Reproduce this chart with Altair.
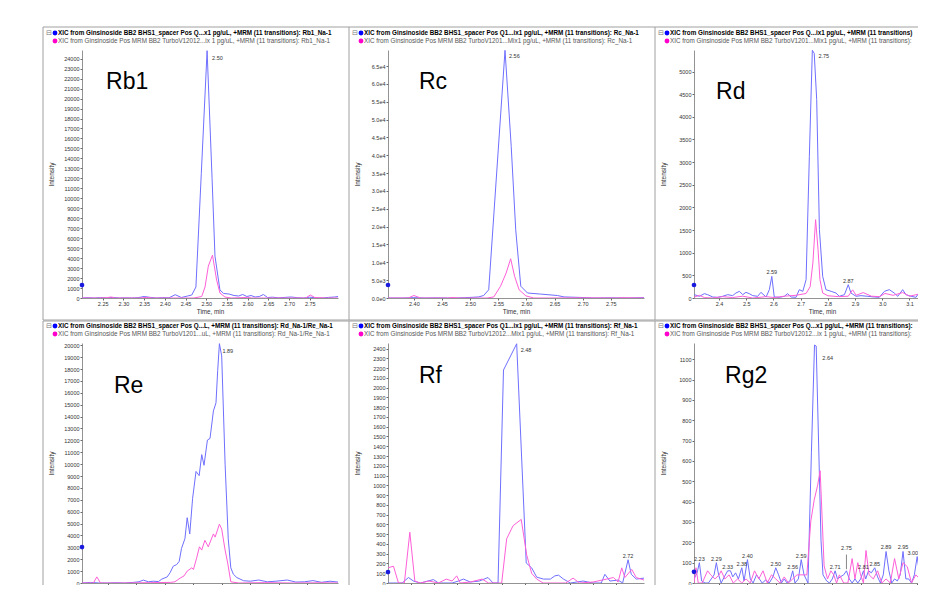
import altair as alt
import pandas as pd

FONT = "Liberation Sans, Arial, sans-serif"
BLUE = "#6f6fff"
MAGENTA = "#ff5fd8"
MARK = "#1a1adf"
W = [256, 256, 256, 256, 256, 256]
H = [248, 248, 248, 240, 240, 240]

# ---------------- data ----------------
rb1_blue_t = [2.200, 2.215, 2.230, 2.245, 2.260, 2.275, 2.290, 2.305, 2.320, 2.335, 2.350, 2.365, 2.380, 2.395, 2.410, 2.425, 2.440, 2.455, 2.465, 2.475, 2.488, 2.502, 2.514, 2.521, 2.533, 2.542, 2.555, 2.567, 2.578, 2.588, 2.598, 2.608, 2.618, 2.628, 2.638, 2.648, 2.660, 2.675, 2.690, 2.705, 2.720, 2.735, 2.750, 2.765, 2.780, 2.795, 2.810, 2.818]
rb1_blue_i = [0, 30, 0, 40, 10, 60, 0, 20, 0, 30, 150, 60, 0, 40, 20, 330, 50, 200, 300, 1100, 12500, 24800, 12000, 4200, 800, 450, 400, 250, 200, 350, 150, 250, 100, 150, 350, 50, 80, 20, 60, 100, 30, 0, 80, 20, 0, 60, 100, 150]
rb1_mag_t = [2.200, 2.240, 2.260, 2.270, 2.280, 2.340, 2.355, 2.370, 2.470, 2.489, 2.497, 2.505, 2.515, 2.525, 2.533, 2.545, 2.560, 2.600, 2.610, 2.700, 2.740, 2.751, 2.762, 2.790, 2.818]
rb1_mag_i = [0, 0, 30, 100, 0, 0, 60, 0, 0, 150, 1100, 3200, 4300, 1800, 500, 100, 0, 60, 0, 0, 0, 300, 50, 0, 0]

rc_blue_t = [2.354, 2.380, 2.400, 2.420, 2.440, 2.460, 2.475, 2.490, 2.505, 2.515, 2.524, 2.533, 2.562, 2.573, 2.581, 2.590, 2.602, 2.625, 2.655, 2.667, 2.697, 2.720, 2.750, 2.780, 2.804, 2.809]
rc_blue_i = [0, 0, 100, 0, 50, 0, 0, 100, 200, 300, 700, 2300, 69400, 42500, 19100, 3300, 1400, 1100, 700, 300, 150, 0, 50, 0, 100, 100]
rc_mag_t = [2.354, 2.390, 2.400, 2.412, 2.460, 2.470, 2.480, 2.530, 2.542, 2.554, 2.564, 2.572, 2.579, 2.587, 2.599, 2.613, 2.640, 2.700, 2.760, 2.770, 2.809]
rc_mag_i = [0, 0, 700, 0, 0, 150, 0, 0, 300, 3300, 7000, 11000, 6100, 2300, 600, 0, 0, 50, 0, 80, 0]

rd_blue_t = [2.309, 2.328, 2.346, 2.358, 2.377, 2.395, 2.413, 2.432, 2.450, 2.462, 2.475, 2.487, 2.499, 2.511, 2.524, 2.542, 2.554, 2.573, 2.585, 2.594, 2.603, 2.622, 2.640, 2.652, 2.665, 2.683, 2.695, 2.708, 2.720, 2.732, 2.743, 2.750, 2.759, 2.769, 2.781, 2.793, 2.812, 2.830, 2.842, 2.861, 2.875, 2.885, 2.904, 2.922, 2.947, 2.971, 2.989, 3.008, 3.026, 3.044, 3.057, 3.075, 3.087, 3.106, 3.124, 3.136, 3.148, 3.162, 3.185, 3.210, 3.249]
rd_blue_i = [74, 37, 96, 74, 22, 15, 37, 74, 52, 110, 147, 74, 125, 96, 52, 37, 125, 22, 184, 478, 22, 15, 37, 96, 22, 15, 184, 147, 405, 3128, 5470, 5400, 4380, 1509, 478, 184, 147, 110, 37, 74, 294, 110, 37, 52, 37, 22, 15, 147, 184, 110, 37, 184, 74, 37, 15, 125, 37, 74, 50, 90, 40]
rd_mag_t = [2.309, 2.328, 2.346, 2.377, 2.413, 2.450, 2.487, 2.524, 2.573, 2.603, 2.640, 2.683, 2.720, 2.735, 2.745, 2.755, 2.764, 2.771, 2.781, 2.800, 2.840, 2.875, 2.891, 2.904, 2.930, 2.960, 2.990, 3.010, 3.040, 3.075, 3.100, 3.130, 3.150, 3.162, 3.200, 3.249]
rd_mag_i = [20, 60, 10, 0, 30, 10, 40, 0, 30, 10, 40, 60, 100, 250, 773, 1730, 1067, 405, 110, 50, 30, 40, 180, 60, 120, 40, 30, 100, 60, 120, 40, 80, 20, 260, 150, 60]

re_blue_t = [1.410, 1.440, 1.470, 1.500, 1.530, 1.560, 1.590, 1.610, 1.625, 1.643, 1.660, 1.678, 1.690, 1.709, 1.719, 1.730, 1.742, 1.751, 1.759, 1.771, 1.779, 1.788, 1.798, 1.810, 1.821, 1.830, 1.838, 1.850, 1.859, 1.871, 1.880, 1.886, 1.892, 1.900, 1.912, 1.923, 1.932, 1.941, 1.953, 1.977, 2.000, 2.030, 2.060, 2.090, 2.130, 2.160, 2.190, 2.220, 2.250, 2.280, 2.308]
re_blue_i = [0, 50, 0, 0, 20, 0, 50, 100, 245, 100, 150, 120, 327, 514, 865, 1412, 1548, 1820, 2906, 3723, 5494, 4131, 7128, 9386, 9032, 10801, 9903, 12026, 12162, 14475, 15155, 17877, 20135, 19101, 10000, 3723, 1274, 735, 460, 190, 150, 250, 100, 150, 250, 80, 100, 200, 60, 150, 80]
re_mag_t = [1.410, 1.450, 1.462, 1.475, 1.550, 1.650, 1.720, 1.736, 1.754, 1.768, 1.779, 1.795, 1.801, 1.812, 1.822, 1.830, 1.841, 1.853, 1.871, 1.877, 1.892, 1.900, 1.912, 1.921, 1.932, 1.960, 2.050, 2.150, 2.250, 2.308]
re_mag_i = [0, 0, 514, 0, 0, 30, 50, 100, 408, 596, 1004, 1274, 1140, 2090, 3045, 2770, 3590, 3045, 4131, 3860, 4950, 4540, 2770, 1684, 100, 0, 30, 0, 20, 0]

rf_blue_t = [2.199, 2.230, 2.244, 2.255, 2.270, 2.299, 2.310, 2.340, 2.354, 2.365, 2.380, 2.400, 2.419, 2.430, 2.441, 2.453, 2.482, 2.503, 2.515, 2.526, 2.541, 2.556, 2.566, 2.574, 2.585, 2.600, 2.628, 2.650, 2.668, 2.676, 2.687, 2.705, 2.715, 2.727, 2.734, 2.745, 2.762]
rf_blue_i = [0, 0, 56, 20, 0, 35, 0, 0, 20, 40, 10, 20, 56, 0, 0, 2180, 2449, 205, 155, 60, 40, 40, 73, 80, 40, 0, 20, 0, 0, 89, 20, 30, 0, 238, 89, 40, 50]
rf_mag_t = [2.199, 2.211, 2.222, 2.235, 2.247, 2.258, 2.270, 2.289, 2.310, 2.327, 2.340, 2.350, 2.358, 2.380, 2.406, 2.420, 2.449, 2.460, 2.474, 2.492, 2.504, 2.515, 2.526, 2.540, 2.590, 2.606, 2.620, 2.650, 2.680, 2.695, 2.705, 2.713, 2.720, 2.735, 2.745, 2.762]
rf_mag_i = [155, 172, 0, 0, 519, 20, 0, 20, 0, 40, 20, 73, 0, 10, 40, 0, 0, 453, 586, 651, 288, 99, 40, 0, 0, 50, 0, 10, 40, 56, 10, 155, 56, 139, 56, 30]

rg2_blue_t = [2.211, 2.222, 2.230, 2.238, 2.250, 2.262, 2.272, 2.282, 2.290, 2.298, 2.307, 2.318, 2.330, 2.340, 2.348, 2.358, 2.368, 2.380, 2.388, 2.400, 2.410, 2.420, 2.432, 2.442, 2.452, 2.465, 2.477, 2.490, 2.500, 2.510, 2.520, 2.530, 2.540, 2.550, 2.560, 2.568, 2.580, 2.590, 2.600, 2.614, 2.626, 2.637, 2.643, 2.660, 2.667, 2.680, 2.690, 2.700, 2.710, 2.718, 2.728, 2.740, 2.750, 2.760, 2.770, 2.780, 2.790, 2.800, 2.810, 2.818, 2.828, 2.838, 2.850, 2.860, 2.870, 2.880, 2.890, 2.900, 2.910, 2.920, 2.930, 2.940, 2.950, 2.960, 2.970, 2.980, 2.990, 3.000, 3.010, 3.020, 3.030, 3.040, 3.060, 3.080, 3.116]
rg2_blue_i = [20, 50, 100, 10, 0, 0, 20, 40, 100, 40, 0, 30, 60, 60, 30, 50, 20, 75, 10, 115, 20, 0, 40, 20, 0, 15, 0, 30, 75, 40, 0, 20, 0, 10, 60, 0, 20, 115, 40, 0, 640, 1170, 1165, 210, 40, 10, 0, 20, 60, 20, 30, 40, 60, 20, 0, 20, 0, 20, 60, 20, 60, 50, 75, 30, 0, 40, 155, 60, 0, 20, 10, 40, 155, 20, 20, 0, 40, 130, 30, 60, 100, 80, 50, 80, 40]
rg2_mag_t = [2.211, 2.218, 2.226, 2.240, 2.259, 2.270, 2.285, 2.300, 2.307, 2.320, 2.335, 2.350, 2.365, 2.380, 2.395, 2.410, 2.425, 2.440, 2.455, 2.470, 2.485, 2.500, 2.515, 2.530, 2.545, 2.560, 2.575, 2.585, 2.610, 2.624, 2.636, 2.648, 2.657, 2.671, 2.683, 2.695, 2.705, 2.715, 2.725, 2.740, 2.755, 2.770, 2.780, 2.790, 2.800, 2.810, 2.819, 2.830, 2.845, 2.860, 2.875, 2.890, 2.905, 2.920, 2.935, 2.950, 2.965, 2.980, 2.995, 3.010, 3.020, 3.035, 3.050, 3.070, 3.090, 3.116]
rg2_mag_i = [0, 75, 0, 0, 60, 40, 20, 40, 60, 20, 40, 0, 20, 0, 20, 0, 60, 20, 60, 0, 40, 20, 0, 30, 0, 20, 40, 40, 40, 305, 409, 480, 552, 84, 20, 60, 40, 0, 40, 0, 0, 120, 20, 100, 40, 0, 160, 40, 20, 60, 0, 20, 0, 120, 20, 100, 80, 0, 40, 20, 120, 60, 30, 80, 40, 60]

# labelled peaks (time, intensity, text)
main_peak_t = [2.502, 2.562, 2.747, 1.892, 2.482, 2.640]
main_peak_i = [24800, 69400, 5470, 20135, 2449, 1170]
main_peak_txt = ["2.50", "2.56", "2.75", "1.89", "2.48", "2.64"]
rd_minor_t = [2.594, 2.875]
rd_minor_i = [478, 294]
rd_minor_txt = ["2.59", "2.87"]
rf_minor_t = [2.727]
rf_minor_i = [238]
rf_minor_txt = ["2.72"]
rg2_minor_t = [2.230, 2.290, 2.330, 2.380, 2.400, 2.500, 2.560, 2.590, 2.710, 2.750, 2.810, 2.850, 2.890, 2.950]
rg2_minor_i = [100, 100, 60, 75, 115, 75, 60, 115, 60, 150, 60, 75, 155, 155]
rg2_minor_txt = ["2.23", "2.29", "2.33", "2.38", "2.40", "2.50", "2.56", "2.59", "2.71", "2.75", "2.81", "2.85", "2.89", "2.95"]
rg2_edge_t = [3.000]
rg2_edge_i = [130]
rg2_edge_txt = ["3.00"]
rg2_leader_t = [2.750]
rg2_leader_lo = [68]
rg2_leader_hi = [140]

compound = ["Rb1", "Rc", "Rd", "Re", "Rf", "Rg2"]
compound_t = [2.258, 2.409, 2.389, 1.522, 2.267, 2.321]
compound_i = [21000, 58700, 4400, 16000, 2050, 985]
marker_i = [1300, 3650, 287, 3020, 112, 55]

legend_line1 = [
    "XIC from Ginsinoside BB2 BHS1_spacer Pos Q...x1 pg/uL, +MRM (11 transitions): Rb1_Na-1",
    "XIC from Ginsinoside BB2 BHS1_spacer Pos Q1...ix1 pg/uL, +MRM (11 transitions): Rc_Na-1",
    "XIC from Ginsinoside BB2 BHS1_spacer Pos Q...ix1 pg/uL, +MRM (11 transitions): Rd_Na-1",
    "XIC from Ginsinoside BB2 BHS1_spacer Pos Q...L, +MRM (11 transitions): Rd_Na-1/Re_Na-1",
    "XIC from Ginsinoside BB2 BHS1_spacer Pos Q1...ix1 pg/uL, +MRM (11 transitions): Rf_Na-1",
    "XIC from Ginsinoside BB2 BHS1_spacer Pos Q...x1 pg/uL, +MRM (11 transitions): Rg2_Na-1",
]
legend_line2 = [
    "XIC from Ginsinoside Pos MRM BB2 TurboV12012...ix 1 pg/uL, +MRM (11 transitions): Rb1_Na-1",
    "XIC from Ginsinoside Pos MRM BB2 TurboV1201...Mix1 pg/uL, +MRM (11 transitions): Rc_Na-1",
    "XIC from Ginsinoside Pos MRM BB2 TurboV1201...Mix1 pg/uL, +MRM (11 transitions): Rd_Na-1",
    "XIC from Ginsinoside Pos MRM BB2 TurboV1201...uL, +MRM (11 transitions): Rd_Na-1/Re_Na-1",
    "XIC from Ginsinoside Pos MRM BB2 TurboV12012...Mix1 pg/uL, +MRM (11 transitions): Rf_Na-1",
    "XIC from Ginsinoside Pos MRM BB2 TurboV12012...ix 1 pg/uL, +MRM (11 transitions): Rg2_Na-1",
]

x_domains = [[2.200, 2.818], [2.354, 2.809], [2.308, 3.249], [1.410, 2.308], [2.199, 2.762], [2.211, 3.116]]
y_max = [24870, 69500, 5476, 20190, 2457, 1180]
x_ticks = [
    [2.25, 2.30, 2.35, 2.40, 2.45, 2.50, 2.55, 2.60, 2.65, 2.70, 2.75],
    [2.40, 2.45, 2.50, 2.55, 2.60, 2.65, 2.70, 2.75],
    [2.4, 2.5, 2.6, 2.7, 2.8, 2.9, 3.0, 3.1],
    [1.5, 1.6, 1.7, 1.8, 1.9, 2.0, 2.1, 2.2],
    [2.25, 2.30, 2.35, 2.40, 2.45, 2.50, 2.55, 2.60, 2.65, 2.70],
    [2.3, 2.4, 2.5, 2.6, 2.7, 2.8, 2.9, 3.0],
]
x_formats = [".2f", ".2f", ".1f", ".1f", ".2f", ".1f"]
y_ticks = [
    list(range(0, 24001, 1000)),
    list(range(0, 65001, 5000)),
    list(range(0, 5001, 500)),
    list(range(0, 20001, 1000)),
    list(range(0, 2401, 100)),
    list(range(0, 1101, 100)),
]
peak_dx = [5, 4, 5, 3, 4, 7]
peak_dy = [7, 6, 6, 7, 6, 13]

series = [
    (rb1_blue_t, rb1_blue_i, rb1_mag_t, rb1_mag_i),
    (rc_blue_t, rc_blue_i, rc_mag_t, rc_mag_i),
    (rd_blue_t, rd_blue_i, rd_mag_t, rd_mag_i),
    (re_blue_t, re_blue_i, re_mag_t, re_mag_i),
    (rf_blue_t, rf_blue_i, rf_mag_t, rf_mag_i),
    (rg2_blue_t, rg2_blue_i, rg2_mag_t, rg2_mag_i),
]
minor = [None, None, (rd_minor_t, rd_minor_i, rd_minor_txt), None,
         (rf_minor_t, rf_minor_i, rf_minor_txt), (rg2_minor_t, rg2_minor_i, rg2_minor_txt)]

FRAME = "#a0a0a0"


def make_panel(k):
    w, h = W[k], H[k]
    row2 = k >= 3
    col3 = k % 3 == 2
    xs = alt.Scale(domain=x_domains[k], nice=False, zero=False)
    ys = alt.Scale(domain=[0, y_max[k]], nice=False, zero=False)
    xkw = dict(values=x_ticks[k], tickCount=1000, format=x_formats[k], labelFontSize=5.5,
               labelColor="#333", tickSize=2, tickColor="#666", domainColor="#777",
               domainWidth=0.8, labelPadding=1, labelOverlap=False, labelFlush=False, grid=False)
    if row2:
        xkw.update(labels=False, title=None)
    else:
        xkw.update(title="Time, min", titleFontSize=6.3, titleFontWeight="normal",
                   titleColor="#333", titlePadding=2)
    xaxis = alt.Axis(**xkw)
    ykw = dict(values=y_ticks[k], tickCount=1000, title="Intensity", labelFontSize=5.5,
               labelColor="#333", tickSize=2, tickColor="#666", domainColor="#777",
               domainWidth=0.8, labelPadding=1,
               titleFontSize=6.5, titleFontWeight="normal", titleColor="#333",
               titleAngle=270, titleX=-31, titleY=h / 2, titleAlign="center",
               titleBaseline="middle", labelOverlap=False, labelFlush=False, grid=False)
    if k == 1:
        ykw["labelExpr"] = "replace(format(datum.value, '.1e'), 'e+', 'e')"
    else:
        ykw["format"] = "d"
    yaxis = alt.Axis(**ykw)

    X = alt.X("t:Q", scale=xs)
    Y = alt.Y("i:Q", scale=ys)

    bt, bi, mt, mi = series[k]
    one = pd.DataFrame({"a": [0]})

    blue = alt.Chart(pd.DataFrame({"t": bt, "i": bi})).mark_line(
        color=BLUE, strokeWidth=1, clip=True).encode(
        x=alt.X("t:Q", scale=xs, axis=xaxis), y=alt.Y("i:Q", scale=ys, axis=yaxis))
    mag = alt.Chart(pd.DataFrame({"t": mt, "i": mi})).mark_line(
        color=MAGENTA, strokeWidth=1, clip=True).encode(x=X, y=Y)

    peak = alt.Chart(pd.DataFrame({"t": [main_peak_t[k]], "i": [main_peak_i[k]],
                                   "s": [main_peak_txt[k]]})).mark_text(
        align="left", baseline="middle", dx=peak_dx[k], dy=peak_dy[k], fontSize=5.5,
        color="#333", font=FONT).encode(x=X, y=Y, text="s:N")

    big = alt.Chart(pd.DataFrame({"t": [compound_t[k]], "i": [compound_i[k]],
                                  "s": [compound[k]]})).mark_text(
        align="left", baseline="alphabetic", fontSize=23, color="#000", font=FONT).encode(
        x=X, y=Y, text="s:N")

    marker = alt.Chart(pd.DataFrame({"t": [x_domains[k][0]], "i": [marker_i[k]]})).mark_point(
        filled=True, size=22, color=MARK, opacity=1).encode(x=X, y=Y)

    txt_kw = dict(limit=244, ellipsis="\u200b") if col3 else {}
    leg1 = alt.Chart(pd.DataFrame({"s": [legend_line1[k]]})).mark_text(
        align="left", baseline="middle", fontSize=6.3, fontWeight="bold", color="#000",
        font=FONT, **txt_kw).encode(x=alt.value(-24), y=alt.value(-17), text="s:N")
    leg2 = alt.Chart(pd.DataFrame({"s": [legend_line2[k]]})).mark_text(
        align="left", baseline="middle", fontSize=6.3, color="#555",
        font=FONT, **txt_kw).encode(x=alt.value(-24), y=alt.value(-9), text="s:N")
    dot1 = alt.Chart(one).mark_point(filled=True, size=24, color="#0000ff", opacity=1).encode(
        x=alt.value(-27), y=alt.value(-17))
    dot2 = alt.Chart(one).mark_point(filled=True, size=24, color="#ff00cc", opacity=1).encode(
        x=alt.value(-27), y=alt.value(-9))
    box = alt.Chart(one).mark_text(text="\u229f", fontSize=7, color="#777",
                                   font="DejaVu Sans").encode(x=alt.value(-33), y=alt.value(-17))

    top = -22 if row2 else -23
    bottom = h + 2 if row2 else h + 22
    right = w if col3 else w + 11
    fl = alt.Chart(one).mark_rule(color=FRAME, strokeWidth=1).encode(
        x=alt.value(-39), y=alt.value(top), y2=alt.value(bottom))
    ft = alt.Chart(one).mark_rule(color=FRAME, strokeWidth=1).encode(
        x=alt.value(-39), x2=alt.value(right), y=alt.value(top))

    layers = [blue, mag, peak, big, marker, leg1, leg2, dot1, dot2, box, fl, ft]
    if not row2:
        layers.append(alt.Chart(one).mark_rule(color=FRAME, strokeWidth=1).encode(
            x=alt.value(-39), x2=alt.value(right), y=alt.value(bottom)))
    if minor[k] is not None:
        mt_, mi_, ms_ = minor[k]
        layers.append(alt.Chart(pd.DataFrame({"t": mt_, "i": mi_, "s": ms_})).mark_text(
            align="center", baseline="bottom", dy=-1, fontSize=5.5, color="#333", font=FONT
        ).encode(x=X, y=Y, text="s:N"))
    if k == 5:
        layers.append(alt.Chart(pd.DataFrame({"t": rg2_edge_t, "i": rg2_edge_i,
                                              "s": rg2_edge_txt})).mark_text(
            align="right", baseline="bottom", dx=1, dy=-1, fontSize=5.5, color="#333",
            font=FONT).encode(x=X, y=Y, text="s:N"))
        layers.append(alt.Chart(pd.DataFrame({"t": rg2_leader_t, "lo": rg2_leader_lo,
                                              "hi": rg2_leader_hi})).mark_rule(
            color="#555", strokeWidth=0.7).encode(
            x=alt.X("t:Q", scale=xs), y=alt.Y("lo:Q", scale=ys), y2="hi:Q"))
    return alt.layer(*layers).properties(width=w, height=h)


chart = alt.concat(*[make_panel(k) for k in range(6)], columns=3,
                   spacing={"row": 45, "column": 50}, bounds="flush").properties(
    padding={"left": 34, "top": 18, "right": -33, "bottom": -2}
).configure_view(strokeWidth=0).configure_axis(labelFont=FONT, titleFont=FONT)

chart.save("out.html", embed_options={"renderer": "svg", "actions": False})
